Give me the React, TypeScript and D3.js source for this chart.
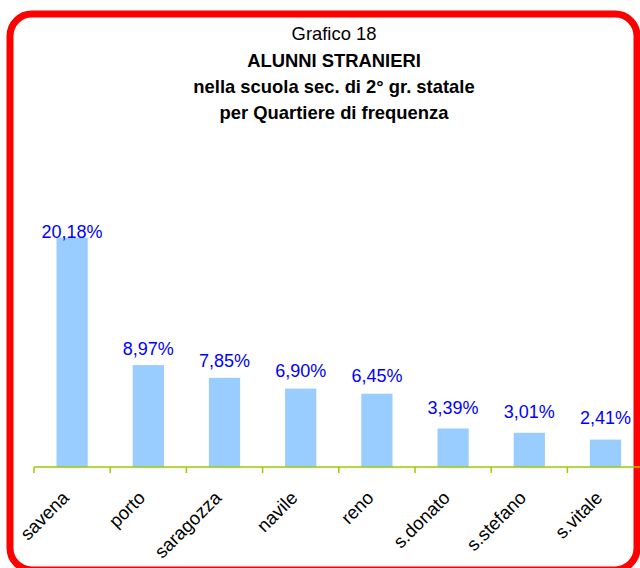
import React from "react";
import * as d3 from "d3";

const categories = ["savena", "porto", "saragozza", "navile", "reno", "s.donato", "s.stefano", "s.vitale"];
const values = [20.18, 8.97, 7.85, 6.9, 6.45, 3.39, 3.01, 2.41];
const valueLabels = ["20,18%", "8,97%", "7,85%", "6,90%", "6,45%", "3,39%", "3,01%", "2,41%"];
const titleLines = ["Grafico 18", "ALUNNI STRANIERI", "nella scuola sec. di 2° gr. statale", "per Quartiere di frequenza"];

const W = 640;
const H = 568;
const FONT = "'Liberation Sans', Arial, sans-serif";

export default function App() {
  const x = d3
    .scaleBand<string>()
    .domain(categories)
    .range([34, 34 + 8 * 76.2])
    .paddingInner(0.59)
    .paddingOuter(0.295);
  const y = d3.scaleLinear().domain([0, 25]).range([467, 183]);
  // data labels in the original sit on a slightly different vertical scale
  const labelY = d3.scaleLinear().domain([0, 25]).range([449.3, 187.3]);
  const step = x.step();
  const tickXs = categories.map((c) => (x(c) as number) + x.bandwidth() / 2 - step / 2);
  const axisY = y(0);

  return (
    <svg
      width={W}
      height={H}
      style={{ position: "absolute", left: 0, top: 0, background: "#fff" }}
      fontFamily={FONT}
    >
      <rect x={0} y={0} width={W} height={H} fill="#fff" />
      <rect x={10} y={14} width={627} height={556} rx={22} ry={22} fill="#fff" stroke="#ff0000" strokeWidth={7} />
      {titleLines.map((t, i) => (
        <text
          key={i}
          x={334}
          y={[40, 67, 93, 119][i]}
          textAnchor="middle"
          fontSize={18.4}
          fontWeight={i === 0 ? "normal" : "bold"}
          fill="#000"
        >
          {t}
        </text>
      ))}
      {categories.map((c, i) => (
        <rect
          key={c}
          x={x(c)}
          y={y(values[i])}
          width={x.bandwidth()}
          height={axisY - y(values[i])}
          fill="#99ccff"
        />
      ))}
      {categories.map((c, i) => (
        <text
          key={"v" + c}
          x={(x(c) as number) + x.bandwidth() / 2}
          y={labelY(values[i])}
          textAnchor="middle"
          fontSize={18}
          fill="#0000ff"
        >
          {valueLabels[i]}
        </text>
      ))}
      <line x1={34} x2={650} y1={axisY} y2={axisY} stroke="#99cc00" strokeWidth={1.5} />
      {tickXs.map((tx, i) => (
        <line key={"t" + i} x1={tx} x2={tx} y1={axisY} y2={axisY + 6} stroke="#99cc00" strokeWidth={1.5} />
      ))}
      {categories.map((c) => {
        const cx = (x(c) as number) + x.bandwidth() / 2 - 2;
        const cy = axisY + 32;
        return (
          <text
            key={"l" + c}
            x={cx}
            y={cy}
            textAnchor="end"
            fontSize={18.5}
            fill="#000"
            transform={`rotate(-45, ${cx}, ${cy})`}
          >
            {c}
          </text>
        );
      })}
    </svg>
  );
}
